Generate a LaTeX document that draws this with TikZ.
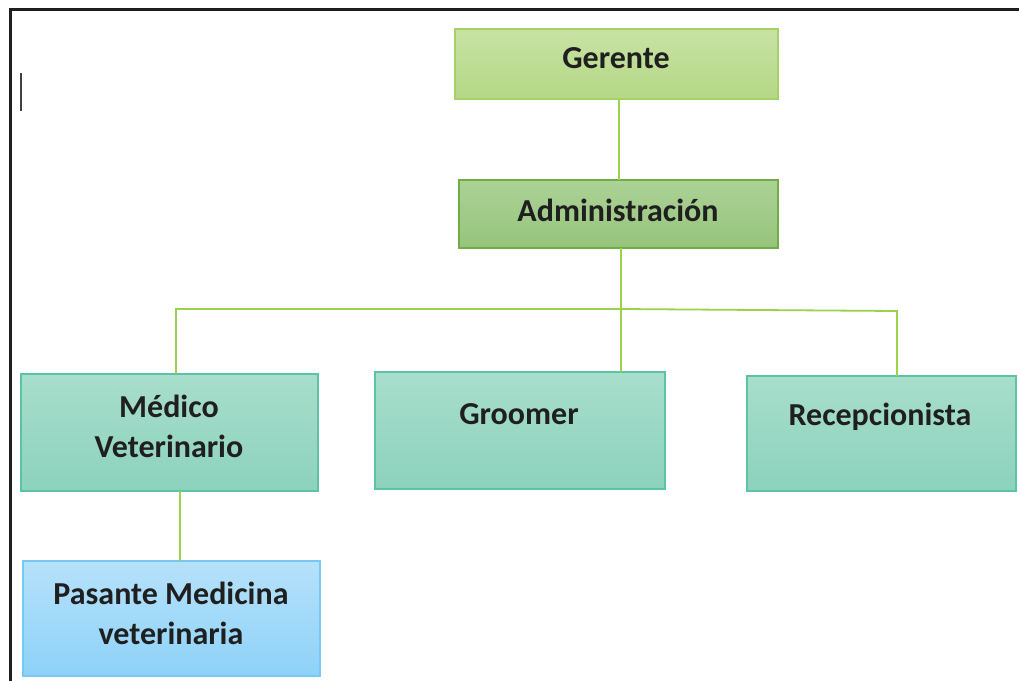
\documentclass[tikz,border=0pt]{standalone}
\usepackage{fontspec}
\setmainfont{Carlito}
\begin{document}
\begin{tikzpicture}[x=1pt,y=-1pt,
  lbl/.style={font=\bfseries\fontsize{32}{40}\selectfont, text=black!88, align=center},
  connc/.style={draw={rgb,255:red,155;green,210;blue,74}, line width=1.8pt},
]
\definecolor{gerTop}{RGB}{200,226,164}
\definecolor{gerBot}{RGB}{180,216,134}
\definecolor{gerBd}{RGB}{166,208,104}
\definecolor{admTop}{RGB}{172,210,150}
\definecolor{admBot}{RGB}{150,196,124}
\definecolor{admBd}{RGB}{112,173,71}
\definecolor{tealTop}{RGB}{168,222,204}
\definecolor{tealBot}{RGB}{140,210,188}
\definecolor{tealBd}{RGB}{92,196,164}
\definecolor{blueTop}{RGB}{182,225,250}
\definecolor{blueBot}{RGB}{142,210,248}
\definecolor{blueBd}{RGB}{120,200,245}
\definecolor{frame}{RGB}{30,30,30}
\useasboundingbox (0,0) rectangle (1019,681);
\fill[white] (0,0) rectangle (1019,681);
% frame
\draw[frame, line width=3pt] (10,681) -- (10,9) -- (1019,9);
% cursor
\draw[black!75, line width=2.2pt] (21,73) -- (21,111);
% boxes
\shade[top color=gerTop, bottom color=gerBot] (455,29) rectangle (778,99);
\draw[gerBd, line width=1.4pt] (455,29) rectangle (778,99);
\node[lbl] (ger) at (616,58) {Gerente};
\coordinate (gerS) at (619,99);

\shade[top color=admTop, bottom color=admBot] (459,180) rectangle (778,248);
\draw[admBd, line width=1.4pt] (459,180) rectangle (778,248);
\node[lbl] (adm) at (618,210) {Administración};
\coordinate (admN) at (619,180);
\coordinate (admS) at (621,248);

\shade[top color=tealTop, bottom color=tealBot] (21,374) rectangle (318,491);
\draw[tealBd, line width=1.4pt] (21,374) rectangle (318,491);
\node[lbl] (med) at (169,426) {Médico\\Veterinario};
\coordinate (medN) at (176,374);
\coordinate (medS) at (180,491);

\shade[top color=tealTop, bottom color=tealBot] (375,372) rectangle (665,489);
\draw[tealBd, line width=1.4pt] (375,372) rectangle (665,489);
\node[lbl] (gro) at (519,414) {Groomer};
\coordinate (groN) at (621,372);

\shade[top color=tealTop, bottom color=tealBot] (747,376) rectangle (1016,491);
\draw[tealBd, line width=1.4pt] (747,376) rectangle (1016,491);
\node[lbl] (rec) at (880,417) {Recepcionista};
\coordinate (recN) at (897,376);

\shade[top color=blueTop, bottom color=blueBot] (23,561) rectangle (320,676);
\draw[blueBd, line width=1.4pt] (23,561) rectangle (320,676);
\node[lbl] (pas) at (171,613) {Pasante Medicina\\veterinaria};
\coordinate (pasN) at (180,561);

% connectors
\coordinate (jl) at (176,309);
\coordinate (jm) at (621,309);
\coordinate (jr) at (897,311);
\draw[connc] (gerS) -- (admN);
\draw[connc] (admS) -- (groN);
\draw[connc] (medN) -- (jl) -- (jm) -- (jr) -- (recN);
\draw[connc] (medS) -- (pasN);
\end{tikzpicture}
\end{document}
